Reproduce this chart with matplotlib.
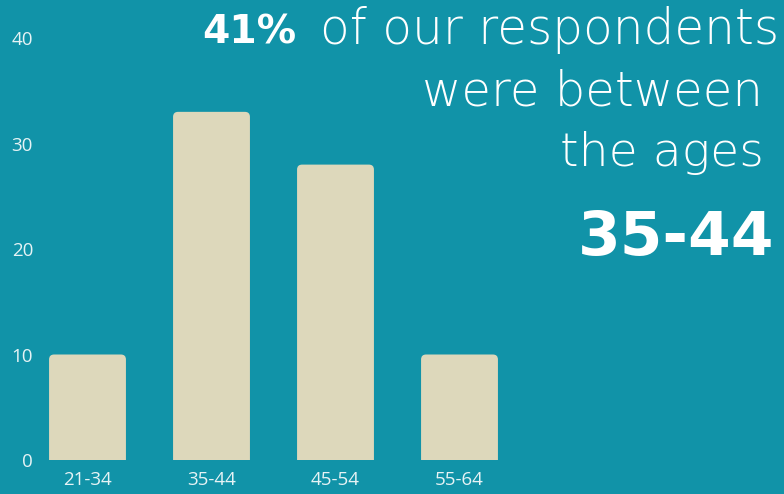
import matplotlib
matplotlib.use("Agg")
import matplotlib.pyplot as plt
from matplotlib.patches import FancyBboxPatch

categories = ["21-34", "35-44", "45-54", "55-64"]
values = [10, 33, 28, 10]
yticks = [0, 10, 20, 30, 40]

BG = "#1193A8"
BAR = "#DDD8BB"
TXT = "#E6F3F5"

W, H = 784, 494
fig = plt.figure(figsize=(W / 100, H / 100), dpi=100, facecolor=BG)

L, R = 40, 521.5
B, T = 460, 38
ax = fig.add_axes([L / W, (H - B) / H, (R - L) / W, (B - T) / H])
ax.set_facecolor(BG)
ax.set_xlim(-(87.5 - L) / 124, 3.5)
ax.set_ylim(0, 40)

bars = ax.bar(range(len(values)), values, width=0.62, color=BAR)
rx = 5 / 124
ry = 5 / 10.55
for b in bars:
    b.set_visible(False)
    p = FancyBboxPatch((b.get_x(), -1), b.get_width(), b.get_height() + 1,
                       boxstyle=f"round,pad=0,rounding_size={rx}",
                       mutation_aspect=ry / rx, facecolor=BAR, edgecolor="none")
    ax.add_patch(p)

for s in ax.spines.values():
    s.set_visible(False)
ax.set_xticks(range(len(categories)))
ax.set_xticklabels(categories)
ax.set_yticks(yticks)
ax.tick_params(length=0, colors=TXT, labelsize=13.5)
ax.tick_params(axis="y", pad=5)
ax.tick_params(axis="x", pad=8)
for lab in ax.get_xticklabels() + ax.get_yticklabels():
    lab.set_family("Open Sans")
    lab.set_color(TXT)
for lab in ax.get_yticklabels():
    lab.set_horizontalalignment("right")

# headline text, each line fitted to (a share of) its measured width,
# anchored at its right edge
renderer = fig.canvas.get_renderer()
fam = ["DejaVu Sans"]


def fitted(x0, x1, base, s, size, weight, scale=1.0):
    t = fig.text(x1 / W, 1 - base / H, s, ha="left", va="baseline",
                 color="white", fontsize=size, fontweight=weight, family=fam)
    for _ in range(3):
        bb = t.get_window_extent(renderer)
        size = size * (x1 - x0) / bb.width
        t.set_fontsize(size)
    t.set_fontsize(size * scale)
    t.set_x(0)
    bb = t.get_window_extent(renderer)
    t.set_x((x1 - bb.x1) / W)
    return t, x1 - bb.width


_, left1 = fitted(296, 779, 44, "of our respondents", 34, 200, 0.95)
fitted(left1 - 24 - 94, left1 - 24, 44, "41%", 30, "bold")
fitted(404, 763, 106, "were between", 34, 200, 0.95)
fitted(550, 764, 166, "the ages", 34, 200, 0.95)
fitted(561, 774, 255, "35-44", 46, "bold", 0.92)

fig.savefig("out.png", dpi=100, facecolor=BG)
